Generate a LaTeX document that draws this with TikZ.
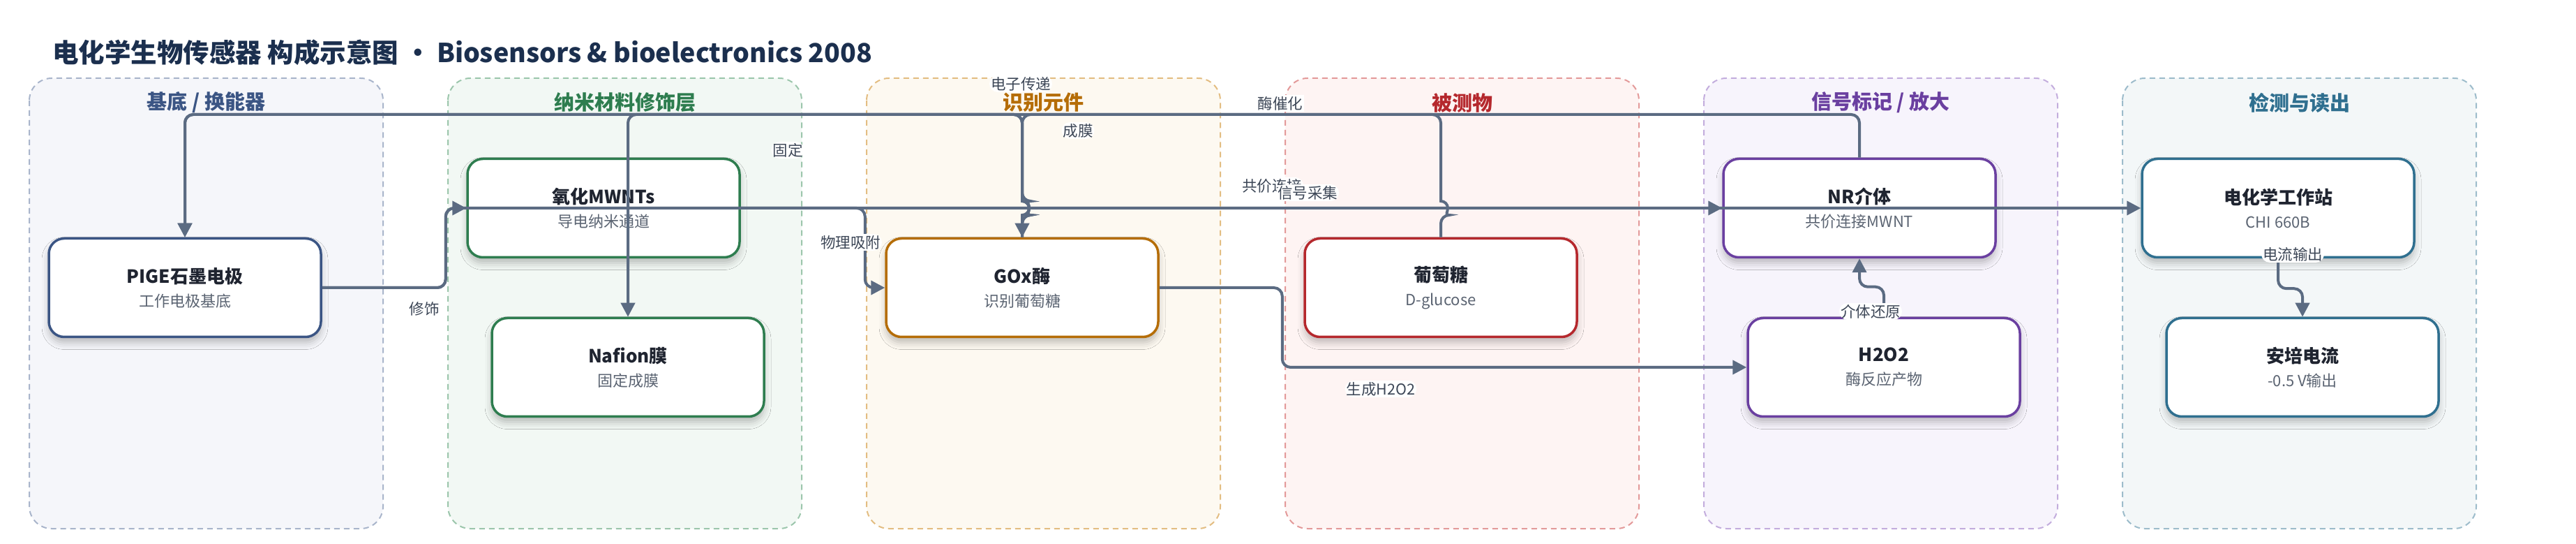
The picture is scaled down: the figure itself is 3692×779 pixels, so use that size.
\documentclass[tikz,border=0pt]{standalone}
\usepackage{fontspec}
\setmainfont{Noto Sans CJK SC}
\usetikzlibrary{arrows.meta,shadows.blur}
\definecolor{ink}{HTML}{1F2430}
\definecolor{subc}{HTML}{5B6472}
\definecolor{lblc}{HTML}{3D4757}
\definecolor{wirec}{HTML}{5B6B82}
\definecolor{headc}{HTML}{1B2F4E}
% lane colours: text / fill / dashed border
\definecolor{sbT}{HTML}{3B5584}\definecolor{sbF}{HTML}{F5F6FA}\definecolor{sbD}{HTML}{A9B5CB}
\definecolor{nmT}{HTML}{2E7D4F}\definecolor{nmF}{HTML}{F2F8F4}\definecolor{nmD}{HTML}{9CC6AC}
\definecolor{reT}{HTML}{B56D07}\definecolor{reF}{HTML}{FDF9F1}\definecolor{reD}{HTML}{E3BD82}
\definecolor{anT}{HTML}{B5282D}\definecolor{anF}{HTML}{FEF4F3}\definecolor{anD}{HTML}{E39A9A}
\definecolor{sgT}{HTML}{6A3FA0}\definecolor{sgF}{HTML}{F7F4FC}\definecolor{sgD}{HTML}{C3ADDD}
\definecolor{rdT}{HTML}{2F6F8F}\definecolor{rdF}{HTML}{F3F7F8}\definecolor{rdD}{HTML}{9DBCCB}
\newcommand{\twoline}[2]{{\bfseries\fontsize{13}{17}\selectfont #1}\\{\color{subc}#2}}
\begin{document}
\begin{tikzpicture}[x=0.5pt,y=-0.5pt,
	lane/.style={rounded corners=16pt,line width=1pt,dash pattern=on 4pt off 3pt},
	lanetitle/.style={font=\fontsize{14.5}{17}\selectfont\bfseries},
	box/.style={draw,fill=white,line width=1.75pt,rounded corners=11pt,minimum width=195pt,minimum height=70.5pt,align=center,text=ink,font=\fontsize{11}{17}\selectfont,blur shadow={shadow xshift=0pt,shadow yshift=-4pt,shadow blur radius=5pt,shadow opacity=25}},
	wire/.style={draw=wirec,line width=2pt,rounded corners=6pt,-{Triangle[length=10pt,width=10pt]}},
	lbl/.style={fill=white,inner sep=1pt,text=lblc,font=\fontsize{10.75}{12}\selectfont}]
	\useasboundingbox (0,0) rectangle (3692,779);
	\coordinate (rail) at (0,164);
	% lanes
	\foreach \lx/\lf/\ld/\lt/\ls [count=\i] in {42/sbF/sbD/sbT/{基底 / 换能器},642/nmF/nmD/nmT/纳米材料修饰层,1242/reF/reD/reT/识别元件,1842/anF/anD/anT/被测物,2442/sgF/sgD/sgT/{信号标记 / 放大},3042/rdF/rdD/rdT/检测与读出}{
		\draw[lane,fill=\lf,draw=\ld] (\lx,112) rectangle ++(507,645);
		\node[lanetitle,text=\lt] (lane\i) at (\lx+253.5,147) {\ls};
	}
	\node[anchor=west,inner sep=0,text=headc,font=\fontsize{18.75}{22}\selectfont\bfseries] (title) at (75,75) {电化学生物传感器 构成示意图 · Biosensors \& bioelectronics 2008};
	% boxes
	\node[box,draw=sbT] (pige) at (265,412) {\twoline{PIGE石墨电极}{工作电极基底}};
	\node[box,draw=nmT] (mwnt) at (865,298) {\twoline{氧化MWNTs}{导电纳米通道}};
	\node[box,draw=nmT] (nafion) at (900,526) {\twoline{Nafion膜}{固定成膜}};
	\node[box,draw=reT] (gox) at (1465,412) {\twoline{GOx酶}{识别葡萄糖}};
	\node[box,draw=anT] (glu) at (2065,412) {\twoline{葡萄糖}{D-glucose}};
	\node[box,draw=sgT] (nr) at (2665,298) {\twoline{NR介体}{共价连接MWNT}};
	\node[box,draw=sgT] (hoo) at (2700,526) {\twoline{H2O2}{酶反应产物}};
	\node[box,draw=rdT] (cws) at (3265,298) {\twoline{电化学工作站}{CHI 660B}};
	\node[box,draw=rdT] (amp) at (3300,526) {\twoline{安培电流}{-0.5 V输出}};
	% connectors
	\draw[wire] (pige.east) -- ++(177,0) |- (mwnt.west) node[lbl] (t1) at (608,442) {修饰};
	\draw[wire] (mwnt.east) -- ++(178,0) |- (gox.west) node[lbl] (t2) at (1219,347) {物理吸附};
	\draw[wire] (mwnt.east) -- (nr.west) node[lbl] (t3) at (1823,266) {共价连接};
	\draw[wire] (pige.east) -- ++(177,0) |- (cws.west) node[lbl] (t4) at (1874,276) {信号采集};
	\draw[wire] (gox.east) -- ++(176,0) |- (hoo.west) node[lbl] (t5) at (1979,557) {生成H2O2};
	\draw[wire] (hoo.north) -- ++(0,-43) -| (nr.south) node[lbl] (t6) at (2681,446) {介体还原};
	\draw[wire] (cws.south) -- ++(0,43) -| (amp.north) node[lbl] (t7) at (3286,364) {电流输出};
	\draw[wire] (nr.north) |- (pige.north |- rail) -- (pige.north) node[lbl] (t8) at (1463,120) {电子传递};
	\draw[wire] (glu.north) -- (2065,308) [sharp corners] arc[start angle=90,end angle=-90,radius=10] [rounded corners=6pt] |- (gox.north |- rail) -- (1465,288) [sharp corners] arc[start angle=-90,end angle=90,radius=10] -- (gox.north) node[lbl] (t9) at (1835,148) {酶催化};
	\draw[wire] (gox.north) -- (1465,308) [sharp corners] arc[start angle=90,end angle=-90,radius=10] [rounded corners=6pt] |- (nafion.north |- rail) -- (nafion.north) node[lbl] (t10) at (1129,215) {固定};
	\draw[wire] (gox.north) -- (1465,308) [sharp corners] arc[start angle=90,end angle=-90,radius=10] [rounded corners=6pt] |- (pige.north |- rail) -- (pige.north) node[lbl] (t11) at (1545,187) {成膜};
\end{tikzpicture}
\end{document}
